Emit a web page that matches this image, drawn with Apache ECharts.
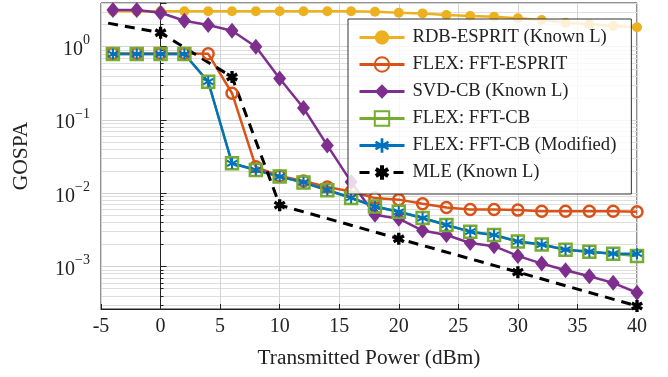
<!DOCTYPE html>
<html>
<head>
<meta charset="utf-8">
<script src="https://cdn.jsdelivr.net/npm/echarts@6/dist/echarts.min.js"></script>
<style>
  html, body { margin: 0; padding: 0; background: #fff; }
  #chart { width: 668px; height: 377px; }
</style>
</head>
<body>
<div id="chart"></div>
<script>
// transmitted power (dBm) for the swept methods
const power = [-4, -2, 0, 2, 4, 6, 8, 10, 12, 14, 16, 18, 20, 22, 24, 26, 28, 30, 32, 34, 36, 38, 40];
// MLE was only run at a few powers
const mlePower = [-4.4, 0, 6, 10, 20, 30, 40];

const rdbEsprit = [3.05, 3.05, 3.05, 3.05, 3.05, 3.05, 3.05, 3.05, 3.05, 3.05, 3.04, 3.0, 2.91, 2.85, 2.71, 2.62, 2.56, 2.44, 2.31, 2.12, 2.04, 1.92, 1.84];
const flexEsprit = [0.81, 0.81, 0.81, 0.81, 0.8, 0.232, 0.023, 0.0172, 0.0147, 0.0122, 0.0106, 0.0086, 0.0082, 0.0072, 0.0064, 0.006, 0.006, 0.0059, 0.0057, 0.0057, 0.0057, 0.0057, 0.0056];
const svdCb = [3.17, 3.17, 2.91, 2.26, 1.98, 1.65, 1.0, 0.368, 0.146, 0.045, 0.0143, 0.0051, 0.0045, 0.0031, 0.0027, 0.0021, 0.0019, 0.0014, 0.0011, 0.00089, 0.00074, 0.0006, 0.00044];
const flexCb = [0.795, 0.795, 0.795, 0.795, 0.333, 0.0257, 0.0208, 0.0169, 0.014, 0.011, 0.0086, 0.0066, 0.0056, 0.0046, 0.0037, 0.003, 0.0027, 0.0022, 0.002, 0.0017, 0.0016, 0.0015, 0.0014];
const flexCbMod = [0.795, 0.795, 0.795, 0.795, 0.333, 0.0257, 0.0208, 0.0169, 0.0141, 0.0111, 0.0087, 0.0066, 0.0056, 0.0046, 0.0037, 0.003, 0.0027, 0.0022, 0.002, 0.0017, 0.0016, 0.0015, 0.0015];
const mle = [2.1, 1.55, 0.386, 0.0069, 0.0024, 0.00084, 0.00029];

const seriesNames = ['RDB-ESPRIT (Known L)', 'FLEX: FFT-ESPRIT', 'SVD-CB (Known L)', 'FLEX: FFT-CB', 'FLEX: FFT-CB (Modified)', 'MLE (Known L)'];
const xTicks = [-5, 0, 5, 10, 15, 20, 25, 30, 35, 40];

const FONT = 'Liberation Serif, Times New Roman, serif';
// 6-arm asterisk drawn as three filled bars
const ASTERISK = 'path://M0.82,0L1.18,0L1.18,2L0.82,2Z M1.776,0.344L1.956,0.656L0.224,1.656L0.044,1.344Z M1.956,1.344L1.776,1.656L0.044,0.656L0.224,0.344Z';
const ASTERISK_BOLD = 'path://M0.72,0L1.28,0L1.28,2L0.72,2Z M1.726,0.257L2.006,0.743L0.274,1.743L-0.006,1.257Z M2.006,1.257L1.726,1.743L-0.006,0.743L0.274,0.257Z';

const pairs = (xs, ys) => xs.map((x, i) => [x, ys[i]]);

const chart = echarts.init(document.getElementById('chart'), null, { renderer: 'canvas' });

const lineSeries = (name, data, color, extra) => Object.assign({
  name,
  type: 'line',
  data,
  lineStyle: { color, width: 2.5 },
  itemStyle: { color },
  showAllSymbol: true,
  animation: false,
  z: 3,
}, extra);

const mleData = pairs(mlePower, mle);
mleData[0] = { value: mleData[0], symbol: 'none' };

const option = {
  animation: false,
  textStyle: { fontFamily: FONT },
  grid: { left: 101, right: 31, top: 3, bottom: 68, show: true, borderColor: '#222', borderWidth: 1, backgroundColor: 'transparent' },
  legend: {
    orient: 'vertical',
    left: 348,
    top: 19,
    width: 283,
    padding: [9, 15, 12, 10],
    itemGap: 8,
    itemWidth: 45,
    itemHeight: 18,
    backgroundColor: 'rgba(255,255,255,0.82)',
    borderColor: '#333',
    borderWidth: 1,
    lineStyle: { width: 3 },
    data: seriesNames,
    textStyle: { fontFamily: FONT, fontSize: 18.6, color: '#222', padding: [0, 0, 0, 3] },
  },
  xAxis: {
    type: 'value',
    min: -5,
    max: 40,
    interval: 5,
    name: 'Transmitted Power (dBm)',
    nameLocation: 'middle',
    nameGap: 39,
    nameTextStyle: { fontFamily: FONT, fontSize: 21.3, color: '#222' },
    axisLine: { lineStyle: { color: '#222', width: 1 } },
    axisTick: { inside: true, length: 5, lineStyle: { color: '#222' } },
    axisLabel: {
      fontFamily: FONT, fontSize: 20, color: '#222', margin: 8,
      formatter: v => (xTicks.indexOf(v) >= 0 ? String(v) : ''),
    },
    splitLine: { show: true, lineStyle: { color: '#d4d4d4', width: 1 } },
  },
  yAxis: {
    type: 'log',
    logBase: 10,
    min: 2.64e-4,
    max: 3.95,
    name: 'GOSPA',
    nameLocation: 'middle',
    nameGap: 69,
    nameTextStyle: { fontFamily: FONT, fontSize: 21.5, color: '#222' },
    axisLine: { lineStyle: { color: '#222', width: 1 } },
    axisTick: { inside: true, length: 6, lineStyle: { color: '#222' } },
    minorTick: { show: true, splitNumber: 9, length: 3, lineStyle: { color: '#222' } },
    axisLabel: {
      showMinLabel: false,
      showMaxLabel: false,
      margin: 11,
      formatter: v => {
        const e = Math.round(Math.log10(v));
        return '{b|10}{s|' + (e < 0 ? '\u2212' + (-e) : e) + '}';
      },
      rich: {
        b: { fontFamily: FONT, fontSize: 20, color: '#222', lineHeight: 26, verticalAlign: 'bottom' },
        s: { fontFamily: FONT, fontSize: 14, color: '#222', lineHeight: 14, verticalAlign: 'top' },
      },
    },
    splitLine: { show: true, lineStyle: { color: '#d4d4d4', width: 1 } },
    minorSplitLine: { show: true, lineStyle: { color: '#dedede', width: 1 } },
  },
  series: [
    lineSeries(seriesNames[0], pairs(power, rdbEsprit), '#EDB120', {
      symbol: 'circle', symbolSize: 10,
    }),
    lineSeries(seriesNames[1], pairs(power, flexEsprit), '#D95319', {
      symbol: 'circle', symbolSize: 11,
      itemStyle: { color: 'rgba(255,255,255,0)', borderColor: '#D95319', borderWidth: 2.5 },
    }),
    lineSeries(seriesNames[2], pairs(power, svdCb), '#7E2F8E', {
      symbol: 'diamond', symbolSize: [13, 16],
    }),
    lineSeries(seriesNames[3], pairs(power, flexCb), '#77AC30', {
      symbol: 'rect', symbolSize: 12,
      itemStyle: { color: 'rgba(255,255,255,0)', borderColor: '#77AC30', borderWidth: 2.5 },
    }),
    lineSeries(seriesNames[4], pairs(power, flexCbMod), '#0072BD', {
      symbol: ASTERISK, symbolSize: 11,
    }),
    lineSeries(seriesNames[5], mleData, '#000', {
      symbol: ASTERISK_BOLD, symbolSize: 12,
      lineStyle: { color: '#000', width: 3, type: [10, 7] },
    }),
  ],
};

chart.setOption(option);
</script>
</body>
</html>
